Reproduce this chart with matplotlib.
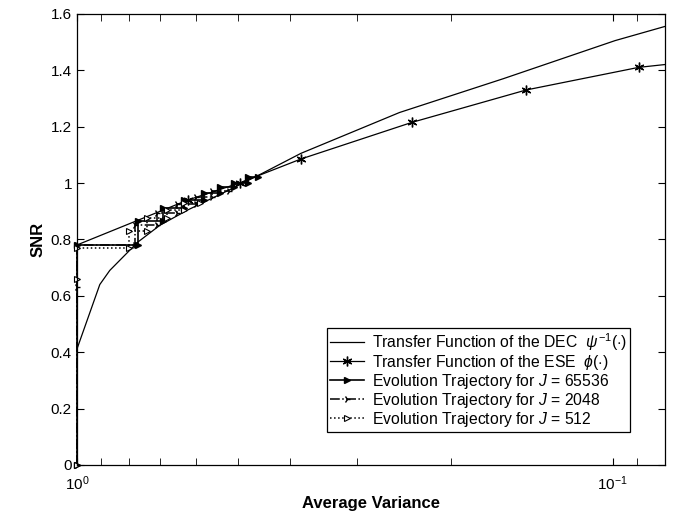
import numpy as np
import matplotlib
matplotlib.use("Agg")
from matplotlib import pyplot as plt
from matplotlib.ticker import FuncFormatter, FixedLocator

plt.rcParams['font.family'] = ['Liberation Sans', 'DejaVu Sans']
plt.rcParams['mathtext.fontset'] = 'custom'
plt.rcParams['mathtext.rm'] = 'Liberation Sans'
plt.rcParams['mathtext.it'] = 'Liberation Sans:italic'

# DEC transfer function psi^-1 (average variance vs SNR)
dec_x = [1.0, 0.906, 0.868, 0.77, 0.70, 0.62, 0.52, 0.45, 0.382, 0.25, 0.16, 0.099, 0.08]
dec_y = [0.41, 0.64, 0.69, 0.79, 0.85, 0.905, 0.975, 1.035, 1.105, 1.25, 1.37, 1.505, 1.555]

# ESE transfer function phi
ese_x = [1.0, 0.62, 0.497, 0.382, 0.237, 0.145, 0.0895, 0.08]
ese_y = [0.78, 0.94, 1.0, 1.085, 1.215, 1.33, 1.41, 1.42]
ese_mark = [1, 2, 3, 4, 5, 6]

# evolution trajectories (staircases)
t1_x = [1.0, 1.0, 0.77, 0.77, 0.69, 0.69, 0.63, 0.63, 0.58, 0.58, 0.54, 0.54, 0.51, 0.51, 0.48, 0.48, 0.46]
t1_y = [0.0, 0.78, 0.78, 0.865, 0.865, 0.91, 0.91, 0.94, 0.94, 0.965, 0.965, 0.985, 0.985, 1.0, 1.0, 1.02, 1.02]

t2_x = [1.0, 1.0, 1.0, 0.78, 0.78, 0.71, 0.71, 0.65, 0.65, 0.60, 0.60, 0.56, 0.56, 0.52]
t2_y = [0.0, 0.63, 0.78, 0.78, 0.85, 0.85, 0.895, 0.895, 0.925, 0.925, 0.95, 0.95, 0.97, 0.97]

t3_x = [1.0, 1.0, 1.0, 0.80, 0.80, 0.74, 0.74, 0.68, 0.68, 0.63, 0.63, 0.59]
t3_y = [0.0, 0.66, 0.77, 0.77, 0.83, 0.83, 0.875, 0.875, 0.905, 0.905, 0.93, 0.93]

yticks = [0, 0.2, 0.4, 0.6, 0.8, 1.0, 1.2, 1.4, 1.6]

fig = plt.figure(figsize=(6.86, 5.21), dpi=100)
ax = fig.add_axes([0.112, 0.1075, 0.857, 0.866])

ast = (6, 2, 0)  # asterisk marker like matlab '*'
ax.plot(dec_x, dec_y, '-', color='black', lw=0.9,
        label=r'Transfer Function of the DEC  $\psi^{-1}(\cdot)$')
ax.plot(ese_x, ese_y, '-', marker=ast, markevery=ese_mark, color='black', lw=0.9, ms=7, mew=1.0,
        label=r'Transfer Function of the ESE  $\phi(\cdot)$')
ax.plot(t1_x, t1_y, '-', marker='>', color='black', lw=1.2, ms=4, clip_on=False,
        label=r'Evolution Trajectory for $J$ = 65536')
ax.plot(t2_x, t2_y, '-.', marker='4', color='black', lw=1.1, ms=5, mew=1.0, clip_on=False,
        label=r'Evolution Trajectory for $J$ = 2048')
ax.plot(t3_x, t3_y, ':', marker='>', color='black', lw=1.1, ms=4, mfc='white', mew=0.8, clip_on=False,
        label=r'Evolution Trajectory for $J$ = 512')

ax.set_xscale('log')
ax.set_xlim(1.0, 0.08)
ax.set_ylim(0, 1.6)
ax.set_yticks(yticks)
ax.yaxis.set_major_formatter(FuncFormatter(lambda v, p: '%g' % v))
ax.xaxis.set_minor_locator(FixedLocator([0.9, 0.8, 0.7, 0.6, 0.5, 0.4, 0.3, 0.2, 0.09]))

ax.tick_params(which='both', direction='in', top=True, right=True, labelsize=11)
ax.tick_params(which='both', length=5)
ax.tick_params(axis='x', pad=7)
for s in ax.spines.values():
    s.set_linewidth(0.9)

ax.set_xlabel('Average Variance', fontsize=12, fontweight='bold', labelpad=2)
ax.set_ylabel('SNR', fontsize=12, fontweight='bold')

leg = ax.legend(loc='lower left', bbox_to_anchor=(0.425, 0.073), fontsize=11.3,
                fancybox=False, edgecolor='black', framealpha=1, handlelength=2.2,
                borderpad=0.2, labelspacing=0.0, handletextpad=0.5, borderaxespad=0)
leg.get_frame().set_linewidth(0.9)

fig.savefig('out.png', dpi=100)
